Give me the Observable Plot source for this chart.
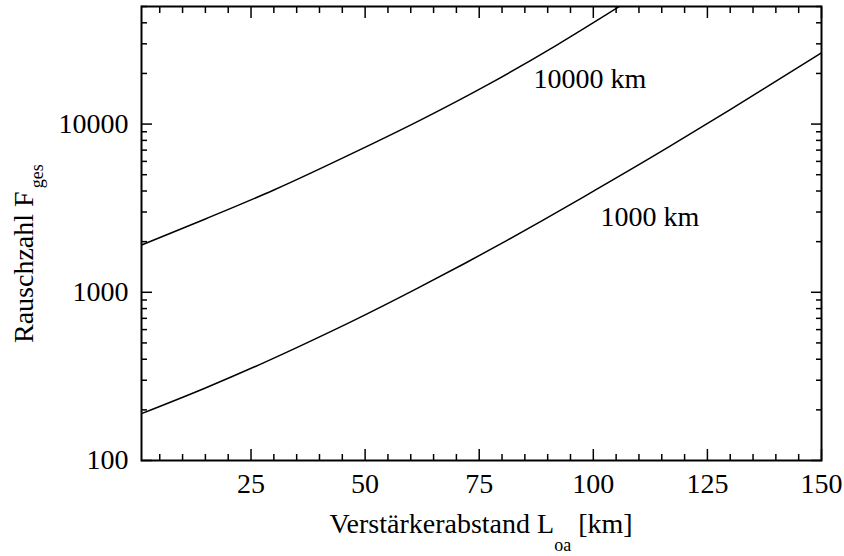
<!DOCTYPE html>
<html>
<head>
<meta charset="utf-8">
<script src="https://cdn.jsdelivr.net/npm/d3@7"></script>
<script src="https://cdn.jsdelivr.net/npm/@observablehq/plot@0.6"></script>
<style>
  html, body { margin: 0; padding: 0; background: #fff; }
  #chart svg { display: block; }
  #chart svg, #chart svg text, #chart svg tspan {
    font-family: "Liberation Serif", "Times New Roman", Times, serif !important;
  }
</style>
</head>
<body>
<div id="chart"></div>
<script>
// Verstärkerabstand L_oa [km] and Rauschzahl F_ges for 1000 km link
const distance1000 = [1, 15, 27, 37, 48, 61, 72, 81, 89, 98, 116, 130, 150];
const noise1000    = [190, 270, 373, 497, 690, 1040, 1493, 2028, 2685, 3707, 7161, 12190, 26550];
// ... and for 10000 km link
const distance10000 = [1, 15, 30, 48, 62, 77, 92, 106];
const noise10000    = [1910, 2729, 4055, 6855, 10520, 17220, 29510, 50580];

const seriesLabels = ["1000 km", "10000 km"];
const labelX = [101.6, 86.9];
const labelY = [2805, 18570];

const xMajor = [25, 50, 75, 100, 125, 150];
const xMinor = [5, 10, 15, 20, 30, 35, 40, 45, 55, 60, 65, 70, 80, 85, 90, 95, 105, 110, 115, 120, 130, 135, 140, 145];
const yMajor = [100, 1000, 10000];
const yMinor = [200, 300, 400, 500, 600, 700, 800, 900, 2000, 3000, 4000, 5000, 6000, 7000, 8000, 9000, 20000, 30000, 40000, 50000];

const xTitle = "Verstärkerabstand L";
const xTitleSub = "oa";
const xTitleEnd = " [km]";
const yTitle = "Rauschzahl F";
const yTitleSub = "ges";

const rows = [
  ...distance1000.map((d, i) => ({L: d, F: noise1000[i], s: "1000 km"})),
  ...distance10000.map((d, i) => ({L: d, F: noise10000[i], s: "10000 km"}))
];
const labels = seriesLabels.map((t, i) => ({t, x: labelX[i], y: labelY[i]}));

const serif = '"Liberation Serif", "Times New Roman", Times, serif';
const blank = () => "";
const chart = Plot.plot({
  width: 844,
  height: 556,
  marginLeft: 141,
  marginRight: 23,
  marginTop: 6,
  marginBottom: 96,
  style: {fontFamily: serif, fontSize: "28px", background: "white", color: "black"},
  x: {domain: [1, 150]},
  y: {type: "log", domain: [100, 50000]},
  marks: [
    Plot.line(rows, {x: "L", y: "F", z: "s", stroke: "black", strokeWidth: 1.5, curve: "monotone-x", clip: true}),
    Plot.text(labels, {x: "x", y: "y", text: "t", textAnchor: "start", fill: "black", fontFamily: serif}),
    // bottom axis
    Plot.axisX(xMajor, {anchor: "bottom", tickSize: -11, tickPadding: 24, tickFormat: d => String(d), label: null, strokeWidth: 1.5, fontFamily: serif}),
    Plot.axisX(xMinor, {anchor: "bottom", tickSize: -6, tickFormat: blank, label: null, strokeWidth: 1.5}),
    // top mirrored ticks
    Plot.axisX(xMajor, {anchor: "top", tickSize: -11, tickFormat: blank, label: null, strokeWidth: 1.5}),
    Plot.axisX(xMinor, {anchor: "top", tickSize: -6, tickFormat: blank, label: null, strokeWidth: 1.5}),
    // left axis
    Plot.axisY(yMajor, {anchor: "left", tickSize: -11, tickPadding: 24, tickFormat: d => String(d), label: null, strokeWidth: 1.5, fontFamily: serif}),
    Plot.axisY(yMinor, {anchor: "left", tickSize: -6, tickFormat: blank, label: null, strokeWidth: 1.5}),
    // right mirrored ticks
    Plot.axisY(yMajor, {anchor: "right", tickSize: -11, tickFormat: blank, label: null, strokeWidth: 1.5}),
    Plot.axisY(yMinor, {anchor: "right", tickSize: -6, tickFormat: blank, label: null, strokeWidth: 1.5}),
    Plot.frame({stroke: "black", strokeWidth: 2})
  ]
});

document.getElementById("chart").appendChild(chart);

// Axis titles with subscripts
const svg = d3.select(chart);
const [xr0, xr1] = chart.scale("x").range;
const xt = svg.append("text")
  .attr("x", (xr0 + xr1) / 2)
  .attr("y", 533)
  .attr("text-anchor", "middle")
  .attr("fill", "black")
  .style("font-family", serif)
  .style("font-size", "28px");
xt.append("tspan").text(xTitle);
xt.append("tspan").attr("dy", 18).style("font-size", "18px").text(xTitleSub);
xt.append("tspan").attr("dy", -18).style("font-size", "28px").text(xTitleEnd);

const yt = svg.append("text")
  .attr("transform", "translate(33,343) rotate(-90)")
  .attr("text-anchor", "start")
  .attr("fill", "black")
  .style("font-family", serif)
  .style("font-size", "28px");
yt.append("tspan").text(yTitle);
yt.append("tspan").attr("dx", 3).attr("dy", 10).style("font-size", "18px").text(yTitleSub);
</script>
</body>
</html>
